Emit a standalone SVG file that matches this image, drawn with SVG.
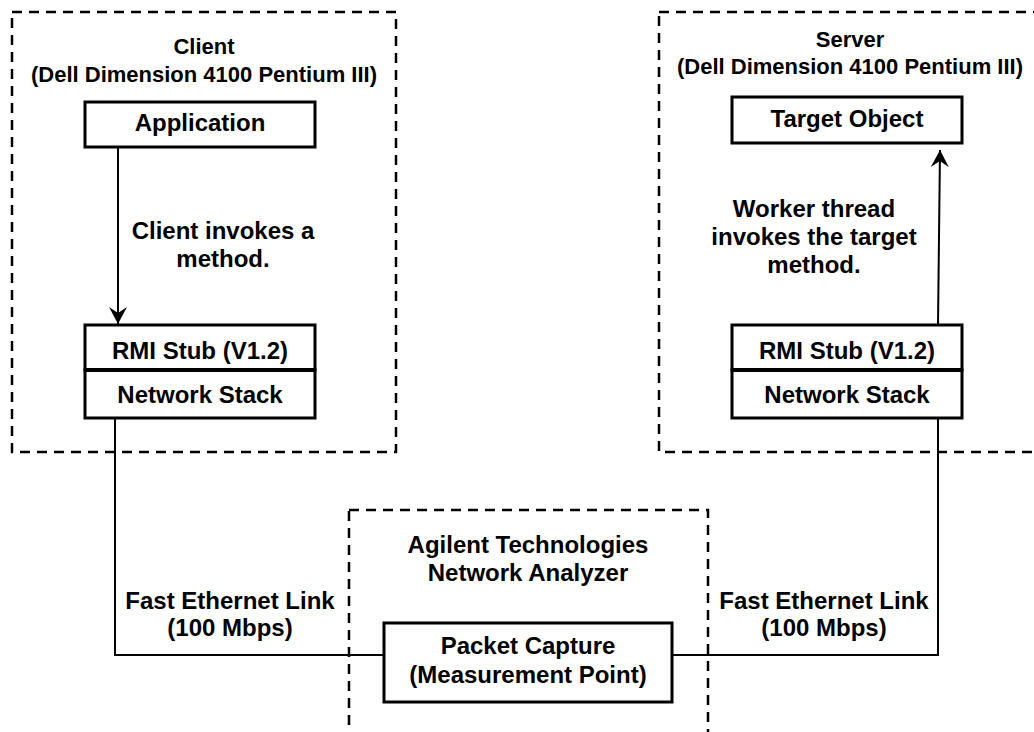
<svg xmlns="http://www.w3.org/2000/svg" width="1034" height="732" viewBox="0 0 1034 732">
<style>
.bg{fill:#fff}
.group{fill:none;stroke:#000;stroke-width:2.5;stroke-dasharray:10,7}
.box{fill:#fff;stroke:#000;stroke-width:3}
.wire{fill:none;stroke:#000;stroke-width:2}
.div{stroke:#000;stroke-width:4}
text{font-family:"Liberation Sans",Arial,sans-serif;font-weight:bold;font-size:24px;fill:#000;text-anchor:middle}
.sm{font-size:22px}
</style>
<defs>
<marker id="arr" markerUnits="userSpaceOnUse" markerWidth="20" markerHeight="20" viewBox="-17 -10 20 20" refX="0" refY="0" orient="auto">
<path d="M0,0 L-17,-9 L-11,0 L-17,9 Z" fill="#000"/>
</marker>
</defs>
<rect class="bg" x="0" y="0" width="1034" height="732"/>
<g id="client">
<rect class="group" x="12" y="12" width="384" height="440"/>
<text class="sm" x="204" y="54">Client</text>
<text class="sm" x="204" y="82">(Dell Dimension 4100 Pentium III)</text>
</g>
<g id="server">
<rect class="group" x="659" y="12" width="400" height="440"/>
<text class="sm" x="850" y="47">Server</text>
<text class="sm" x="850" y="74">(Dell Dimension 4100 Pentium III)</text>
</g>
<g id="analyzer">
<rect class="group" x="349" y="510" width="359" height="250"/>
<text x="528" y="553">Agilent Technologies</text>
<text x="528" y="581">Network Analyzer</text>
</g>
<g id="connectors">
<line class="wire" x1="118" y1="147" x2="118" y2="324" marker-end="url(#arr)"/>
<line class="wire" x1="938" y1="325" x2="940" y2="150" marker-end="url(#arr)"/>
<polyline class="wire" points="115,418 115,655 384,655"/>
<polyline class="wire" points="938,418 938,655 672,655"/>
<text x="223" y="239">Client invokes a</text>
<text x="223" y="267">method.</text>
<text x="814" y="217">Worker thread</text>
<text x="814" y="245">invokes the target</text>
<text x="814" y="273">method.</text>
<text x="230" y="609">Fast Ethernet Link</text>
<text x="230" y="636">(100 Mbps)</text>
<text x="824" y="609">Fast Ethernet Link</text>
<text x="824" y="636">(100 Mbps)</text>
</g>
<g id="application">
<rect class="box" x="85" y="102" width="230" height="45"/>
<text x="200" y="131">Application</text>
</g>
<g id="target-object">
<rect class="box" x="732" y="97" width="230" height="46"/>
<text x="847" y="127">Target Object</text>
</g>
<g id="client-rmi-stub">
<rect class="box" x="85" y="325" width="230" height="45"/>
<text x="200" y="359">RMI Stub (V1.2)</text>
</g>
<g id="client-network-stack">
<rect class="box" x="85" y="370" width="230" height="48"/>
<line class="div" x1="85" y1="370" x2="315" y2="370"/>
<text x="200" y="403">Network Stack</text>
</g>
<g id="server-rmi-stub">
<rect class="box" x="732" y="325" width="230" height="45"/>
<text x="847" y="359">RMI Stub (V1.2)</text>
</g>
<g id="server-network-stack">
<rect class="box" x="732" y="370" width="230" height="48"/>
<line class="div" x1="732" y1="370" x2="962" y2="370"/>
<text x="847" y="403">Network Stack</text>
</g>
<g id="packet-capture">
<rect class="box" x="384" y="623" width="288" height="79"/>
<text x="528" y="654">Packet Capture</text>
<text x="528" y="683">(Measurement Point)</text>
</g>
</svg>
